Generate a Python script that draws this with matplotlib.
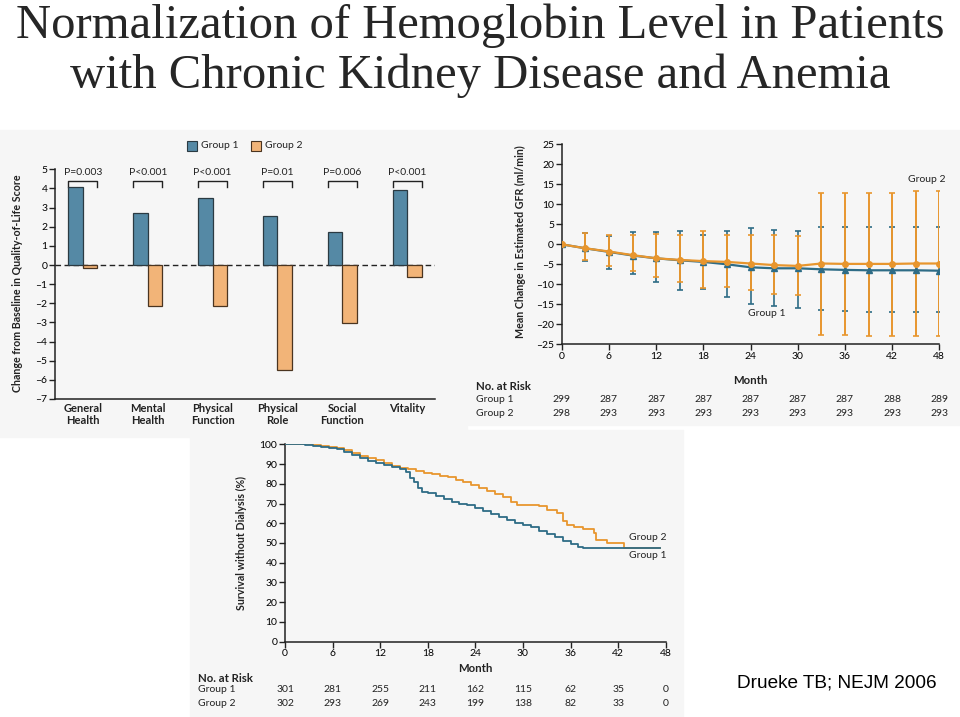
import numpy as np
import matplotlib
matplotlib.use("Agg")
import matplotlib.pyplot as plt
from matplotlib.patches import Rectangle
import matplotlib.transforms as mtransforms

W, H = 960, 717

# ---- data: quality of life bars
qol_cats = ["General\nHealth", "Mental\nHealth", "Physical\nFunction", "Physical\nRole", "Social\nFunction", "Vitality"]
qol_g1 = [4.1, 2.7, 3.5, 2.55, 1.75, 3.9]
qol_g2 = [-0.15, -2.15, -2.15, -5.5, -3.05, -0.65]
qol_p = ["P=0.003", "P<0.001", "P<0.001", "P=0.01", "P=0.006", "P<0.001"]

# ---- data: GFR change
gfr_months = [0, 3, 6, 9, 12, 15, 18, 21, 24, 27, 30, 33, 36, 39, 42, 45, 48]
gfr_g1 = [0, -1.0, -1.9, -2.8, -3.5, -4.0, -4.4, -5.0, -5.75, -6.0, -6.0, -6.25, -6.4, -6.5, -6.5, -6.5, -6.6]
gfr_g2 = [0, -1.0, -1.8, -2.7, -3.5, -3.9, -4.2, -4.4, -4.8, -5.2, -5.4, -4.8, -4.9, -4.9, -4.9, -4.8, -4.8]
gfr_g1_hi = [0, 2.9, 2.2, 3.1, 3.1, 3.4, 2.4, 3.4, 4.0, 3.7, 3.4, 4.4, 4.4, 4.3, 4.3, 4.3, 4.3]
gfr_g1_lo = [0, -4.25, -6.1, -7.3, -9.4, -11.4, -11.2, -13.1, -15.0, -15.4, -15.8, -16.5, -16.7, -16.8, -16.8, -16.8, -16.8]
gfr_g2_hi = [0, 2.8, 2.4, 2.3, 2.7, 2.4, 3.3, 2.4, 2.3, 2.3, 2.1, 12.9, 12.9, 12.9, 12.9, 13.3, 13.3]
gfr_g2_lo = [0, -4.0, -5.4, -6.7, -8.1, -9.3, -11.0, -10.7, -11.4, -12.4, -12.7, -22.7, -22.7, -23.0, -23.0, -23.0, -23.0]
gfr_risk_months = [0, 6, 12, 18, 24, 30, 36, 42, 48]
gfr_risk_g1 = [299, 287, 287, 287, 287, 287, 287, 288, 289]
gfr_risk_g2 = [298, 293, 293, 293, 293, 293, 293, 293, 293]

# ---- data: survival without dialysis (Kaplan-Meier)
km_t1 = [0, 2.5, 3.5, 4.5, 5.5, 6.5, 7.5, 8.5, 9.5, 10.5, 11.5, 12.5, 13.5, 14.5, 15.2, 15.8, 16.3,
         16.8, 17.3, 18, 19, 20, 21, 22, 23, 24, 25, 26, 27, 28, 29, 30, 31, 32, 33, 34, 35, 36, 37,
         37.6, 47.3]
km_s1 = [100, 99.5, 99, 98.5, 98, 97.5, 96, 94.5, 93, 91.5, 90.5, 89.5, 88.5, 87.5, 86, 83, 81,
         78, 76, 75.5, 74, 72.5, 71, 70, 69, 67.5, 66, 64.5, 63, 61.5, 60, 59, 58, 56, 54.5, 53, 51,
         49.5, 48, 47.3, 47.3]
km_t2 = [0, 3.5, 4.5, 5.5, 6.5, 7.5, 8.5, 9.5, 10.5, 11.5, 12.5, 13.5, 14.5, 15.5, 16.5, 17.5, 18.5,
         19.5, 20.5, 21.5, 22.5, 23.5, 24.5, 25.5, 26.5, 27.5, 28.5, 29.2, 32, 33, 34.3, 35, 35.6, 36.5,
         37.6, 38.9, 39.2, 40.6, 42.7, 47.3]
km_s2 = [100, 99.5, 99, 98.5, 98, 97, 95.5, 94, 93, 92, 90.5, 89, 88, 87.5, 86.5, 85.5, 85,
         84, 83.5, 82, 81, 79.5, 78, 76.5, 75, 73.5, 71, 69.5, 68.8, 66.8, 65, 61, 59, 58,
         57, 55, 51.5, 49.8, 47.6, 47.6]
km_risk_months = [0, 6, 12, 18, 24, 30, 36, 42, 48]
km_risk_g1 = [301, 281, 255, 211, 162, 115, 62, 35, 0]
km_risk_g2 = [302, 293, 269, 243, 199, 138, 82, 33, 0]

BLUE_BAR = "#5589a5"
ORANGE_BAR = "#f2b478"
BLUE = "#2e6c86"
ORANGE = "#e8962e"
BG = "#f6f6f6"
FONT = "Lato"
FS = 7.5
FSB = 8.2

plt.rcParams["font.family"] = FONT
plt.rcParams["font.size"] = FS


def box(x0, y0, x1, y1):
    return [x0 / W, 1 - y1 / H, (x1 - x0) / W, (y1 - y0) / H]


def fx(x):
    return x / W


def fy(y):
    return 1 - y / H


def style_axes(ax):
    ax.set_facecolor("none")
    for s in ["top", "right"]:
        ax.spines[s].set_visible(False)
    for s in ["left", "bottom"]:
        ax.spines[s].set_linewidth(1.1)
        ax.spines[s].set_color("#222222")
    ax.tick_params(direction="out", length=4, width=1.0, color="#222222", labelsize=FS, pad=1.5)


fig = plt.figure(figsize=(9.6, 7.17), dpi=100)
fig.patch.set_facecolor("white")

# panel backgrounds
for (x0, y0, x1, y1) in [(0, 130, 467, 437), (468, 130, 960, 425), (190, 430, 683, 717)]:
    fig.patches.append(Rectangle((fx(x0), fy(y1)), (x1 - x0) / W, (y1 - y0) / H,
                                 transform=fig.transFigure, color=BG, zorder=-10))

# title
fig.text(0.5, fy(26), "Normalization of Hemoglobin Level in Patients", ha="center", va="center",
         fontsize=35, family="Liberation Serif", color="#262626")
fig.text(0.5, fy(76), "with Chronic Kidney Disease and Anemia", ha="center", va="center",
         fontsize=35, family="Liberation Serif", color="#262626")
fig.text(fx(737), fy(683), "Drueke TB; NEJM 2006", ha="left", va="center",
         fontsize=13.7, family="Liberation Sans", color="black")

# ================= panel A: quality of life
axA = fig.add_axes(box(55, 169.3, 435, 399))
style_axes(axA)
x = np.arange(len(qol_cats))
bw = 0.225
axA.bar(x - bw / 2, qol_g1, bw, color=BLUE_BAR, edgecolor="#2b3a42", linewidth=0.9, zorder=3)
axA.bar(x + bw / 2, qol_g2, bw, color=ORANGE_BAR, edgecolor="#4a3420", linewidth=0.9, zorder=3)
axA.axhline(0, color="#222222", lw=1.0, ls=(0, (4, 2.5)), zorder=2)
axA.set_xlim(-0.43, 5.43)
axA.set_ylim(-7, 5)
axA.set_yticks(range(-7, 6))
axA.set_yticklabels([str(v).replace("-", "\u2013") for v in range(-7, 6)])
axA.set_xticks([])
trA = mtransforms.blended_transform_factory(axA.transData, fig.transFigure)
for i, lab in enumerate(qol_cats):
    axA.text(i, fy(403), lab, transform=trA, ha="center", va="top", fontsize=FSB - 0.2,
             fontweight="bold", color="#222222", linespacing=1.1)
    axA.plot([i - bw, i - bw, i + bw, i + bw], [4.05, 4.4, 4.4, 4.05], color="#222222",
             lw=1.0, clip_on=False)
    axA.text(i, 4.6, qol_p[i], ha="center", va="bottom", fontsize=FS, color="#222222", clip_on=False)
fig.text(fx(18), fy(283), "Change from Baseline in Quality-of-Life Score", rotation=90,
         ha="center", va="center", fontsize=FS + 0.2, fontweight="bold", color="#222222")
# legend
for (x0, col, ec, lab) in [(187, BLUE_BAR, "#2b3a42", "Group 1"), (251, ORANGE_BAR, "#4a3420", "Group 2")]:
    fig.patches.append(Rectangle((fx(x0), fy(151)), 10 / W, 10 / H, transform=fig.transFigure,
                                 facecolor=col, edgecolor=ec, linewidth=0.8, zorder=2))
    fig.text(fx(x0 + 14), fy(146), lab, ha="left", va="center", fontsize=FS, color="#222222")

# ================= panel B: GFR
axB = fig.add_axes(box(561.7, 144.3, 939.3, 344.3))
style_axes(axB)
m = np.array(gfr_months)
g1 = np.array(gfr_g1)
g2 = np.array(gfr_g2)
axB.errorbar(m, g1, yerr=[g1 - np.array(gfr_g1_lo), np.array(gfr_g1_hi) - g1], fmt="none",
             ecolor=BLUE, elinewidth=1.2, capsize=2.5, capthick=1.2, zorder=3)
axB.errorbar(m, g2, yerr=[g2 - np.array(gfr_g2_lo), np.array(gfr_g2_hi) - g2], fmt="none",
             ecolor=ORANGE, elinewidth=1.4, capsize=2.5, capthick=1.2, zorder=4)
axB.plot(m, g1, color=BLUE, lw=1.6, marker="^", ms=4, zorder=5)
axB.plot(m, g2, color=ORANGE, lw=1.6, marker="o", ms=4, zorder=6)
axB.set_xlim(0, 48)
axB.set_ylim(-25, 25)
axB.set_xticks(range(0, 49, 6))
axB.set_yticks(range(-25, 26, 5))
axB.set_yticklabels([str(v).replace("-", "\u2013") for v in range(-25, 26, 5)])
fig.text(fx(520), fy(242), "Mean Change in Estimated GFR (ml/min)", rotation=90, ha="center",
         va="center", fontsize=FS + 0.2, fontweight="bold", color="#222222")
fig.text(fx(750), fy(380), "Month", ha="center", va="center", fontsize=FSB, fontweight="bold",
         color="#222222")
fig.text(fx(946), fy(180), "Group 2", ha="right", va="center", fontsize=FS, color="#222222")
fig.text(fx(767), fy(313), "Group 1", ha="center", va="center", fontsize=FS, color="#222222")
fig.text(fx(476), fy(387), "No. at Risk", ha="left", va="center", fontsize=FSB,
         fontweight="bold", color="#222222")
fig.text(fx(476), fy(400), "Group 1", ha="left", va="center", fontsize=FS, color="#222222")
fig.text(fx(476), fy(413), "Group 2", ha="left", va="center", fontsize=FS, color="#222222")
trB = mtransforms.blended_transform_factory(axB.transData, fig.transFigure)
for mm, a, b in zip(gfr_risk_months, gfr_risk_g1, gfr_risk_g2):
    axB.text(mm, fy(400), str(a), transform=trB, ha="center", va="center", fontsize=FS, color="#222222")
    axB.text(mm, fy(413), str(b), transform=trB, ha="center", va="center", fontsize=FS, color="#222222")

# ================= panel C: survival without dialysis
axC = fig.add_axes(box(285, 444.3, 665.7, 641.7))
style_axes(axC)
axC.step(km_t2, km_s2, where="post", color=ORANGE, lw=1.3, zorder=3)
axC.step(km_t1, km_s1, where="post", color=BLUE, lw=1.3, zorder=4)
axC.set_xlim(0, 48)
axC.set_ylim(0, 100)
axC.set_xticks(range(0, 49, 6))
axC.set_yticks(range(0, 101, 10))
fig.text(fx(241), fy(543), "Survival without Dialysis (%)", rotation=90, ha="center", va="center",
         fontsize=FS + 0.2, fontweight="bold", color="#222222")
fig.text(fx(475), fy(669), "Month", ha="center", va="center", fontsize=FSB, fontweight="bold",
         color="#222222")
fig.text(fx(629), fy(537), "Group 2", ha="left", va="center", fontsize=FS, color="#222222")
fig.text(fx(629), fy(556), "Group 1", ha="left", va="center", fontsize=FS, color="#222222")
fig.text(fx(198), fy(678), "No. at Risk", ha="left", va="center", fontsize=FSB,
         fontweight="bold", color="#222222")
fig.text(fx(198), fy(690), "Group 1", ha="left", va="center", fontsize=FS, color="#222222")
fig.text(fx(198), fy(703), "Group 2", ha="left", va="center", fontsize=FS, color="#222222")
trC = mtransforms.blended_transform_factory(axC.transData, fig.transFigure)
for mm, a, b in zip(km_risk_months, km_risk_g1, km_risk_g2):
    axC.text(mm, fy(690), str(a), transform=trC, ha="center", va="center", fontsize=FS, color="#222222")
    axC.text(mm, fy(703), str(b), transform=trC, ha="center", va="center", fontsize=FS, color="#222222")

fig.savefig("out.png", dpi=100)
